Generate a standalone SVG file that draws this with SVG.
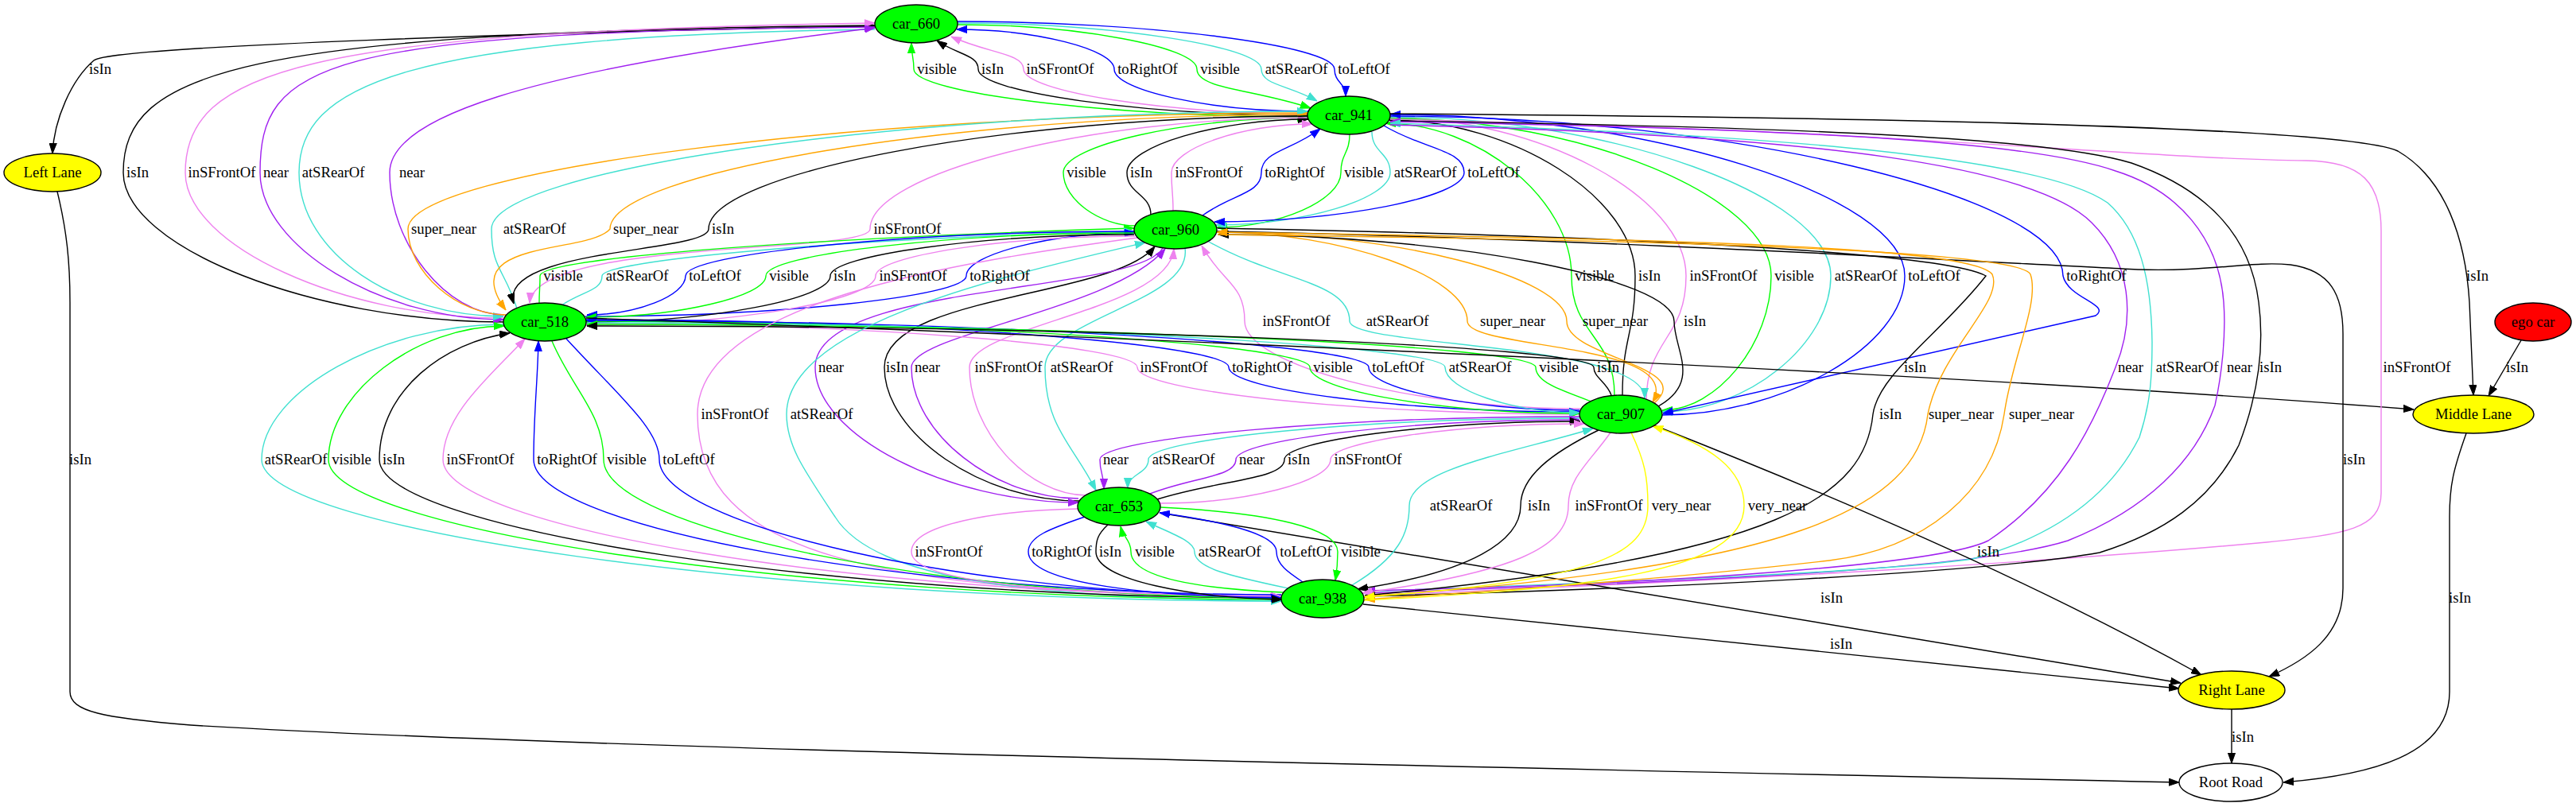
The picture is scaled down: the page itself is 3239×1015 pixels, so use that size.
<svg xmlns="http://www.w3.org/2000/svg" width="3239" height="1015" viewBox="0 0 3239 1015">
<style>
.e{fill:none;stroke-width:1.4}
.k{stroke:#000;marker-end:url(#ak)}
.g{stroke:#00ff00;marker-end:url(#ag)}
.v{stroke:#ee82ee;marker-end:url(#av)}
.t{stroke:#40e0d0;marker-end:url(#at)}
.b{stroke:#0000ff;marker-end:url(#ab)}
.p{stroke:#a020f0;marker-end:url(#ap)}
.o{stroke:#ffa500;marker-end:url(#ao)}
.y{stroke:#ffff00;marker-end:url(#ay)}
.n{stroke:#000;stroke-width:1.4}
.car{fill:#00ff00}
.lane{fill:#ffff00}
.ego{fill:#ff0000}
.road{fill:#ffffff}
text{font-family:"Liberation Serif","Times New Roman",serif;font-size:18.67px;text-anchor:middle;fill:#000}
</style>
<defs>
<marker id="ak" viewBox="0 0 13 10" refX="13" refY="5" markerWidth="13" markerHeight="10" markerUnits="userSpaceOnUse" orient="auto"><path d="M0,0.4 L13,5 L0,9.6 Z" fill="#000" stroke="#000"/></marker>
<marker id="ag" viewBox="0 0 13 10" refX="13" refY="5" markerWidth="13" markerHeight="10" markerUnits="userSpaceOnUse" orient="auto"><path d="M0,0.4 L13,5 L0,9.6 Z" fill="#00ff00" stroke="#00ff00"/></marker>
<marker id="av" viewBox="0 0 13 10" refX="13" refY="5" markerWidth="13" markerHeight="10" markerUnits="userSpaceOnUse" orient="auto"><path d="M0,0.4 L13,5 L0,9.6 Z" fill="#ee82ee" stroke="#ee82ee"/></marker>
<marker id="at" viewBox="0 0 13 10" refX="13" refY="5" markerWidth="13" markerHeight="10" markerUnits="userSpaceOnUse" orient="auto"><path d="M0,0.4 L13,5 L0,9.6 Z" fill="#40e0d0" stroke="#40e0d0"/></marker>
<marker id="ab" viewBox="0 0 13 10" refX="13" refY="5" markerWidth="13" markerHeight="10" markerUnits="userSpaceOnUse" orient="auto"><path d="M0,0.4 L13,5 L0,9.6 Z" fill="#0000ff" stroke="#0000ff"/></marker>
<marker id="ap" viewBox="0 0 13 10" refX="13" refY="5" markerWidth="13" markerHeight="10" markerUnits="userSpaceOnUse" orient="auto"><path d="M0,0.4 L13,5 L0,9.6 Z" fill="#a020f0" stroke="#a020f0"/></marker>
<marker id="ao" viewBox="0 0 13 10" refX="13" refY="5" markerWidth="13" markerHeight="10" markerUnits="userSpaceOnUse" orient="auto"><path d="M0,0.4 L13,5 L0,9.6 Z" fill="#ffa500" stroke="#ffa500"/></marker>
<marker id="ay" viewBox="0 0 13 10" refX="13" refY="5" markerWidth="13" markerHeight="10" markerUnits="userSpaceOnUse" orient="auto"><path d="M0,0.4 L13,5 L0,9.6 Z" fill="#ffff00" stroke="#ffff00"/></marker>
</defs>
<rect x="0" y="0" width="3239" height="1015" fill="#ffffff"/>
<g id="connectors">
<path class="e g" d="M1644,147 C1397,147 1149,117 1149,87 C1149,71 1146,71 1146,54"/>
<path class="e k" d="M1644,145 C1437,145 1230,116 1230,87 C1230,69 1204,69 1178,51"/>
<path class="e v" d="M1644,143 C1466,143 1287,115 1287,87 C1287,67 1242,67 1196,46"/>
<path class="e b" d="M1645,140 C1523,140 1401,114 1401,87 C1401,62 1302,37 1203,37"/>
<path class="e g" d="M1204,31 C1355,31 1505,59 1505,87 C1505,112 1577,112 1648,136"/>
<path class="e t" d="M1204,29 C1395,29 1586,58 1586,87 C1586,107 1621,107 1656,127"/>
<path class="e b" d="M1204,27 C1441,27 1678,57 1678,87 C1678,104 1692,104 1692,121"/>
<path class="e k" d="M1100,33 C700,40 140,58 118,76 C90,100 68,150 66,193"/>
<path class="e k" d="M72,241 C84,290 88,330 88,380 L88,870 C88,895 130,903 240,912 C700,940 1700,962 2740,984"/>
<path class="e k" d="M633,405 C394,405 155,311 155,217 C155,90 300,40 1100,32"/>
<path class="e v" d="M633,400 C433,400 233,309 233,217 C233,90 380,40 1100,29"/>
<path class="e p" d="M1100,34 C400,40 327,80 327,217 C327,310 480,402 633,402"/>
<path class="e t" d="M1100,37 C500,45 376,110 376,217 C376,320 500,398 633,398"/>
<path class="e p" d="M634,396 C562,396 490,307 490,217 C490,150 650,90 1100,35"/>
<path class="e g" d="M1428,284 C1383,284 1337,251 1337,217 C1337,183 1491,148 1644,148"/>
<path class="e k" d="M1447,270 C1447,244 1417,244 1417,217 C1417,184 1531,150 1645,150"/>
<path class="e v" d="M1475,265 C1475,241 1473,241 1473,217 C1473,187 1562,156 1650,156"/>
<path class="e b" d="M1512,271 C1549,244 1586,244 1586,217 C1586,190 1623,190 1660,162"/>
<path class="e g" d="M1697,169 C1697,193 1686,193 1686,217 C1686,252 1608,286 1530,286"/>
<path class="e t" d="M1725,166 C1725,192 1748,192 1748,217 C1748,250 1639,283 1529,283"/>
<path class="e b" d="M1740,158 C1790,188 1841,188 1841,217 C1841,248 1684,279 1527,279"/>
<path class="e o" d="M636,396 C575,396 513,342 513,288 C513,215 1079,142 1644,142"/>
<path class="e t" d="M650,388 C634,338 618,338 618,288 C618,214 1131,140 1644,140"/>
<path class="e o" d="M1644,144 C1206,144 767,216 767,288 C740,320 570,300 636,390"/>
<path class="e k" d="M1644,146 C1268,146 891,217 891,288 C891,318 625,312 646,382"/>
<path class="e v" d="M1644,148 C1369,148 1094,218 1094,288 C1094,320 672,300 666,381"/>
<path class="e g" d="M678,381 C678,364 679,364 679,347 C679,325 1000,300 1426,287"/>
<path class="e t" d="M706,384 C732,366 757,366 757,347 C757,328 1050,300 1426,291"/>
<path class="e b" d="M736,398 C976,398 1215,373 1215,347 C1215,320 1321,293 1427,293"/>
<path class="e b" d="M1426,291 C1144,291 862,319 862,347 C862,372 800,396 738,396"/>
<path class="e g" d="M1426,293 C1195,293 963,320 963,347 C963,373 851,399 737,399"/>
<path class="e k" d="M1426,295 C1235,295 1044,321 1044,347 C1044,376 891,405 737,405"/>
<path class="e v" d="M1427,297 C1264,297 1101,322 1101,347 C1101,378 919,409 737,409"/>
<path class="e g" d="M2030,497 C2030,422 1976,422 1976,347 C1976,251 1859,155 1742,155"/>
<path class="e k" d="M2040,497 C2040,422 2056,422 2056,347 C2056,249 1902,151 1747,151"/>
<path class="e v" d="M2070,505 C2070,426 2120,426 2120,347 C2120,247 1934,148 1748,148"/>
<path class="e g" d="M1748,149 C1988,149 2227,248 2227,347 C2227,432 2159,516 2090,516"/>
<path class="e t" d="M1748,147 C2025,147 2302,247 2302,347 C2302,433 2196,518 2090,518"/>
<path class="e b" d="M2090,522 C2243,522 2395,435 2395,347 C2395,246 2072,144 1748,144"/>
<path class="e b" d="M1748,146 C2171,146 2594,247 2594,347 C2600,375 2655,383 2635,397 L2091,520"/>
<path class="e v" d="M1987,514 C1776,514 1565,459 1565,404 C1565,357 1538,357 1511,309"/>
<path class="e t" d="M1518,303 C1608,354 1697,354 1697,404 C1697,437 2068,430 2068,501"/>
<path class="e o" d="M1530,292 C1688,292 1845,348 1845,404 C1845,440 2120,430 2078,506"/>
<path class="e o" d="M2080,507 C2135,460 1970,450 1970,404 C1970,348 1751,292 1531,292"/>
<path class="e k" d="M2085,511 C2140,480 2105,440 2105,404 C2105,350 1819,295 1532,295"/>
<path class="e k" d="M1357,630 C1235,630 1112,546 1112,462 C1112,370 1400,375 1452,310"/>
<path class="e p" d="M1462,312 C1430,370 1025,355 1025,462 C1025,547 1191,632 1356,632"/>
<path class="e p" d="M1356,627 C1251,627 1146,545 1146,462 C1146,420 1400,390 1465,313"/>
<path class="e v" d="M1366,623 C1293,623 1219,543 1219,462 C1219,410 1470,390 1476,313"/>
<path class="e t" d="M1490,312 C1500,380 1314,400 1314,462 C1314,538 1350,560 1378,617"/>
<path class="e v" d="M1986,521 C1708,521 1430,492 1430,462 C1430,434 1083,407 737,407"/>
<path class="e b" d="M737,402 C1141,402 1545,432 1545,462 C1545,490 1765,518 1986,518"/>
<path class="e g" d="M737,404 C1192,404 1647,433 1647,462 C1647,491 1816,520 1986,520"/>
<path class="e b" d="M1986,516 C1854,516 1721,489 1721,462 C1721,433 1229,403 737,403"/>
<path class="e t" d="M737,406 C1277,406 1817,434 1817,462 C1817,490 1902,519 1986,519"/>
<path class="e g" d="M2001,505 C1960,490 1931,480 1931,462 C1931,434 1334,408 738,408"/>
<path class="e k" d="M2026,497 C2020,480 2004,475 2004,462 C2004,435 1370,410 738,410"/>
<path class="e k" d="M737,400 C1300,420 2400,465 3035,515"/>
<path class="e v" d="M1748,150 C2400,165 2700,200 2900,202 C2970,203 2994,230 2994,290 L2994,620 C2994,665 2950,672 2850,682 C2600,705 2200,730 1716,749"/>
<path class="e k" d="M1748,152 C2300,160 2580,175 2680,205 C2780,240 2830,300 2840,380 C2848,440 2838,500 2815,560 C2780,630 2720,670 2640,695 C2500,720 2100,740 1716,750"/>
<path class="e p" d="M1716,746 C2200,730 2500,712 2600,680 C2700,640 2760,580 2785,510 C2794,470 2799,420 2796,380 C2790,300 2740,240 2660,215 C2560,180 2300,162 1748,153"/>
<path class="e t" d="M1716,744 C2100,730 2380,718 2480,703 C2600,670 2660,610 2690,550 C2703,510 2706,480 2706,430 C2705,350 2690,290 2650,255 C2580,205 2300,170 1748,155"/>
<path class="e p" d="M1748,157 C2300,170 2560,210 2630,280 C2680,330 2685,400 2660,462 C2630,540 2590,620 2500,680 C2440,710 2100,735 1716,743"/>
<path class="e k" d="M1748,143 C2400,148 2950,160 3015,190 C3075,225 3100,300 3105,380 L3110,497"/>
<path class="e k" d="M3170,428 L3129,498"/>
<path class="e k" d="M3101,545 C3085,590 3080,610 3080,650 L3080,870 C3080,950 2980,975 2871,984"/>
<path class="e k" d="M2806,892 L2806,960"/>
<path class="e k" d="M1530,291 C2000,300 2500,330 2688,339 C2780,342 2830,328 2880,333 C2930,340 2946,370 2946,420 L2946,740 C2946,800 2900,830 2853,851"/>
<path class="e k" d="M2080,535 Q2500,700 2768,849"/>
<path class="e k" d="M1458,645 L2742,859"/>
<path class="e k" d="M1714,760 L2740,866"/>
<path class="e v" d="M1430,299 C1200,330 877,380 877,521 C877,700 1100,745 1610,751"/>
<path class="e t" d="M1611,756 C1300,752 1100,730 1050,650 C1010,590 989,560 989,521 C989,410 1250,350 1440,305"/>
<path class="e k" d="M1531,287 C2100,298 2450,320 2497,347 C2440,420 2362,470 2355,521 C2345,620 2250,700 1716,749"/>
<path class="e o" d="M1716,750 C2250,715 2410,640 2424,521 C2440,440 2520,380 2505,345 C2480,310 2100,300 1530,292"/>
<path class="e o" d="M1531,295 C2100,302 2540,315 2553,345 C2565,380 2530,450 2520,521 C2505,620 2420,690 2300,705 C2100,728 1900,742 1716,754"/>
<path class="e t" d="M633,408 C481,408 329,493 329,578 C329,667 970,756 1611,756"/>
<path class="e g" d="M1611,754 C1012,754 413,666 413,578 C413,494 524,410 634,410"/>
<path class="e k" d="M1611,752 C1044,752 477,665 477,578 C477,490 560,430 641,419"/>
<path class="e v" d="M1611,750 C1084,750 557,664 557,578 C557,520 620,470 660,426"/>
<path class="e b" d="M1611,748 C1141,748 671,663 671,578 C671,520 676,480 677,429"/>
<path class="e g" d="M694,429 C720,490 759,520 759,578 C759,665 1185,752 1611,752"/>
<path class="e b" d="M712,426 C780,500 829,540 829,578 C829,660 1220,750 1611,750"/>
<path class="e p" d="M1986,524 C1685,524 1383,551 1383,578 C1383,596 1388,596 1388,615"/>
<path class="e t" d="M1986,526 C1715,526 1444,552 1444,578 C1444,596 1418,596 1418,614"/>
<path class="e p" d="M1446,621 C1500,600 1554,600 1554,578 C1554,553 1770,528 1986,528"/>
<path class="e k" d="M1455,628 C1535,603 1615,603 1615,578 C1615,554 1801,530 1987,530"/>
<path class="e v" d="M1458,633 C1566,633 1673,606 1673,578 C1673,556 1831,533 1992,533"/>
<path class="e t" d="M1700,736 C1760,700 1772,670 1772,636 C1772,590 1900,570 2003,539"/>
<path class="e k" d="M2010,541 C1950,570 1912,600 1912,636 C1912,680 1850,720 1707,741"/>
<path class="e v" d="M2025,544 C2000,580 1972,600 1972,636 C1972,690 1900,720 1713,746"/>
<path class="e y" d="M2051,544 C2068,580 2072,600 2072,636 C2072,700 2000,730 1715,751"/>
<path class="e y" d="M1715,755 C2000,740 2193,720 2193,636 C2193,590 2150,560 2078,536"/>
<path class="e v" d="M1355,640 C1250,642 1146,660 1146,694 C1146,740 1400,748 1611,750"/>
<path class="e b" d="M1364,650 C1320,665 1293,675 1293,694 C1293,735 1450,750 1611,752"/>
<path class="e k" d="M1393,660 C1380,672 1378,680 1378,694 C1378,730 1500,752 1612,754"/>
<path class="e g" d="M1613,745 C1500,740 1422,725 1422,694 C1422,680 1412,675 1409,662"/>
<path class="e t" d="M1620,740 C1550,725 1502,715 1502,694 C1502,680 1470,670 1441,656"/>
<path class="e b" d="M1638,732 C1620,720 1605,710 1605,694 C1605,670 1530,655 1458,645"/>
<path class="e g" d="M1459,638 C1600,645 1682,665 1682,694 C1682,710 1681,718 1679,730"/>
</g>
<g id="edge-labels">
<text x="126" y="93">isIn</text><text x="1178" y="93">visible</text><text x="1248" y="93">isIn</text><text x="1333" y="93">inSFrontOf</text><text x="1443" y="93">toRightOf</text><text x="1534" y="93">visible</text><text x="1630" y="93">atSRearOf</text><text x="1715" y="93">toLeftOf</text>
<text x="173" y="223">isIn</text><text x="279" y="223">inSFrontOf</text><text x="347" y="223">near</text><text x="419" y="223">atSRearOf</text><text x="518" y="223">near</text><text x="1366" y="223">visible</text><text x="1435" y="223">isIn</text><text x="1520" y="223">inSFrontOf</text><text x="1628" y="223">toRightOf</text><text x="1715" y="223">visible</text><text x="1792" y="223">atSRearOf</text><text x="1878" y="223">toLeftOf</text>
<text x="558" y="294">super_near</text><text x="672" y="294">atSRearOf</text><text x="812" y="294">super_near</text><text x="909" y="294">isIn</text><text x="1141" y="294">inSFrontOf</text>
<text x="708" y="353">visible</text><text x="801" y="353">atSRearOf</text><text x="899" y="353">toLeftOf</text><text x="992" y="353">visible</text><text x="1062" y="353">isIn</text><text x="1148" y="353">inSFrontOf</text><text x="1257" y="353">toRightOf</text><text x="2005" y="353">visible</text><text x="2074" y="353">isIn</text><text x="2167" y="353">inSFrontOf</text><text x="2256" y="353">visible</text><text x="2346" y="353">atSRearOf</text><text x="2432" y="353">toLeftOf</text><text x="2636" y="353">toRightOf</text><text x="3115" y="353">isIn</text>
<text x="1630" y="410">inSFrontOf</text><text x="1757" y="410">atSRearOf</text><text x="1902" y="410">super_near</text><text x="2031" y="410">super_near</text><text x="2131" y="410">isIn</text>
<text x="1045" y="468">near</text><text x="1128" y="468">isIn</text><text x="1166" y="468">near</text><text x="1268" y="468">inSFrontOf</text><text x="1360" y="468">atSRearOf</text><text x="1476" y="468">inSFrontOf</text><text x="1587" y="468">toRightOf</text><text x="1676" y="468">visible</text><text x="1758" y="468">toLeftOf</text><text x="1861" y="468">atSRearOf</text><text x="1960" y="468">visible</text><text x="2022" y="468">isIn</text><text x="2408" y="468">isIn</text><text x="2679" y="468">near</text><text x="2750" y="468">atSRearOf</text><text x="2816" y="468">near</text><text x="2855" y="468">isIn</text><text x="3039" y="468">inSFrontOf</text><text x="3165" y="468">isIn</text>
<text x="924" y="527">inSFrontOf</text><text x="1033" y="527">atSRearOf</text><text x="2377" y="527">isIn</text><text x="2466" y="527">super_near</text><text x="2567" y="527">super_near</text>
<text x="101" y="584">isIn</text><text x="372" y="584">atSRearOf</text><text x="442" y="584">visible</text><text x="495" y="584">isIn</text><text x="604" y="584">inSFrontOf</text><text x="713" y="584">toRightOf</text><text x="788" y="584">visible</text><text x="866" y="584">toLeftOf</text><text x="1403" y="584">near</text><text x="1488" y="584">atSRearOf</text><text x="1574" y="584">near</text><text x="1633" y="584">isIn</text><text x="1720" y="584">inSFrontOf</text><text x="2960" y="584">isIn</text>
<text x="1837" y="642">atSRearOf</text><text x="1935" y="642">isIn</text><text x="2023" y="642">inSFrontOf</text><text x="2114" y="642">very_near</text><text x="2235" y="642">very_near</text>
<text x="1193" y="700">inSFrontOf</text><text x="1335" y="700">toRightOf</text><text x="1396" y="700">isIn</text><text x="1452" y="700">visible</text><text x="1546" y="700">atSRearOf</text><text x="1642" y="700">toLeftOf</text><text x="1711" y="700">visible</text><text x="2500" y="700">isIn</text>
<text x="2303" y="758">isIn</text><text x="3093" y="758">isIn</text>
<text x="2315" y="816">isIn</text>
<text x="2820" y="933">isIn</text>
</g>
<g id="car_660"><ellipse class="n car" cx="1152" cy="30" rx="52" ry="24"/><text x="1152" y="36">car_660</text></g>
<g id="car_941"><ellipse class="n car" cx="1696" cy="145" rx="52" ry="24"/><text x="1696" y="151">car_941</text></g>
<g id="car_960"><ellipse class="n car" cx="1478" cy="289" rx="52" ry="24"/><text x="1478" y="295">car_960</text></g>
<g id="car_518"><ellipse class="n car" cx="685" cy="405" rx="52" ry="24"/><text x="685" y="411">car_518</text></g>
<g id="car_907"><ellipse class="n car" cx="2038" cy="521" rx="52" ry="24"/><text x="2038" y="527">car_907</text></g>
<g id="car_653"><ellipse class="n car" cx="1407" cy="637" rx="52" ry="24"/><text x="1407" y="643">car_653</text></g>
<g id="car_938"><ellipse class="n car" cx="1663" cy="753" rx="52" ry="24"/><text x="1663" y="759">car_938</text></g>
<g id="ego_car"><ellipse class="n ego" cx="3185" cy="405" rx="48" ry="24"/><text x="3185" y="411">ego car</text></g>
<g id="left_lane"><ellipse class="n lane" cx="66" cy="217" rx="61" ry="24"/><text x="66" y="223">Left Lane</text></g>
<g id="middle_lane"><ellipse class="n lane" cx="3110" cy="521" rx="76" ry="24"/><text x="3110" y="527">Middle Lane</text></g>
<g id="right_lane"><ellipse class="n lane" cx="2806" cy="868" rx="67" ry="24"/><text x="2806" y="874">Right Lane</text></g>
<g id="root_road"><ellipse class="n road" cx="2805" cy="984" rx="65" ry="24"/><text x="2805" y="990">Root Road</text></g>
</svg>
